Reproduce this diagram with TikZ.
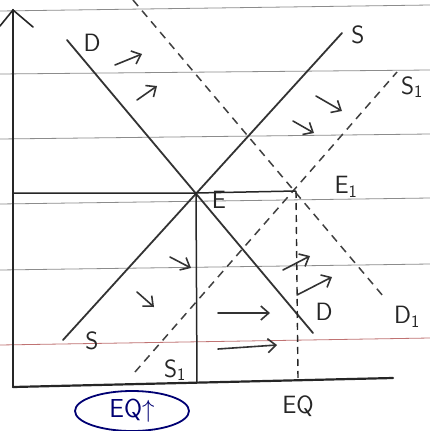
\documentclass[tikz,border=0pt]{standalone}
\usetikzlibrary{arrows.meta,shapes.geometric}
\begin{document}
\begin{tikzpicture}[x=1pt,y=-1pt,
  rule/.style={black!45,line width=0.8pt},
  redrule/.style={red!55!black!55,line width=0.8pt},
  axisline/.style={black!85,line width=2.2pt,line cap=round},
  curve/.style={black!80,line width=1.8pt,line cap=round},
  dcurve/.style={black!75,line width=1.5pt,dash pattern=on 8pt off 6pt},
  guide/.style={black!85,line width=1.5pt},
  dguide/.style={black!85,line width=1.4pt,dash pattern=on 7pt off 5pt},
  sarrow/.style={black!80,line width=1.6pt,line cap=round,-{Straight Barb[length=8pt,width=14pt,line width=1.6pt]}},
  lbl/.style={font=\sffamily\fontsize{25}{27}\selectfont,text=black!85,inner sep=0pt},
  eqbox/.style={ellipse,draw=blue!45!black,line width=1.8pt,text=blue!45!black,font=\sffamily\fontsize{26}{28}\selectfont,minimum width=114pt,minimum height=40pt,inner sep=0pt}]
\useasboundingbox (0,0) rectangle (430,431);
\fill[white] (0,0) rectangle (430,431);
% ruled paper
\draw[rule] (0,11) -- (430,5);
\draw[rule] (0,74) -- (430,70);
\draw[rule] (0,139) -- (430,134);
\draw[rule] (0,204) -- (430,198);
\draw[rule] (0,270) -- (430,264);
\draw[redrule] (0,345) -- (430,338);
% coordinates
\coordinate (O) at (13,387);
\coordinate (Ytop) at (13,10);
\coordinate (Xend) at (393,378);
\coordinate (Yl) at (0,26);
\coordinate (Yr) at (33,27);
\coordinate (Dtop) at (67,40);
\coordinate (Dbot) at (313,333);
\coordinate (Sbot) at (63,340);
\coordinate (Stop) at (342,33);
\coordinate (D1top) at (133,0);
\coordinate (D1bot) at (383,296);
\coordinate (S1bot) at (135,372);
\coordinate (S1top) at (397,72);
\coordinate (E) at (196,193);
\coordinate (E1) at (296,191);
\coordinate (Pax) at (13,193);
\coordinate (Qe) at (197,383);
\coordinate (Qe1) at (298,379);
% axes
\draw[axisline] (O) -- (Ytop);
\draw[axisline] (O) -- (Xend);
\draw[axisline,line width=1.6pt] (Yl) -- (Ytop) -- (Yr);
% curves
\draw[curve] (Dtop) -- (Dbot);
\draw[curve] (Sbot) -- (Stop);
\draw[dcurve] (D1top) -- (D1bot);
\draw[dcurve] (S1bot) -- (S1top);
% guides
\draw[guide] (Pax) -- (E) -- (E1);
\draw[guide] (E) -- (Qe);
\draw[dguide] (E1) -- (Qe1);
% arrows
\coordinate (a1s) at (115,65); \coordinate (a1e) at (142,54);
\coordinate (a2s) at (137,100); \coordinate (a2e) at (157,86);
\coordinate (a3s) at (293,121); \coordinate (a3e) at (314,133);
\coordinate (a4s) at (316,96); \coordinate (a4e) at (342,111);
\coordinate (a5s) at (170,257); \coordinate (a5e) at (191,268);
\coordinate (a6s) at (137,292); \coordinate (a6e) at (154,307);
\coordinate (a7s) at (218,313); \coordinate (a7e) at (270,313);
\coordinate (a8s) at (218,349); \coordinate (a8e) at (277,345);
\coordinate (a9s) at (283,270); \coordinate (a9e) at (310,256);
\coordinate (a10s) at (297,295); \coordinate (a10e) at (332,277);
\foreach \i in {1,...,10} \draw[sarrow] (a\i s) -- (a\i e);
% labels
\node[lbl] (lD) at (92,43) {D};
\node[lbl] (lS) at (358,35) {S};
\node[lbl] (lS1) at (412,87) {S\textsubscript{1}};
\node[lbl] (lE) at (219,200) {E};
\node[lbl] (lE1) at (346,187) {E\textsubscript{1}};
\node[lbl] (lD2) at (324,312) {D};
\node[lbl] (lD1) at (407,317) {D\textsubscript{1}};
\node[lbl] (lS2) at (92,341) {S};
\node[lbl] (lS12) at (175,370) {S\textsubscript{1}};
\node[lbl] (lEQ) at (298,406) {EQ};
\node[eqbox] (equp) at (132,411) {EQ$\uparrow$};
\end{tikzpicture}
\end{document}
